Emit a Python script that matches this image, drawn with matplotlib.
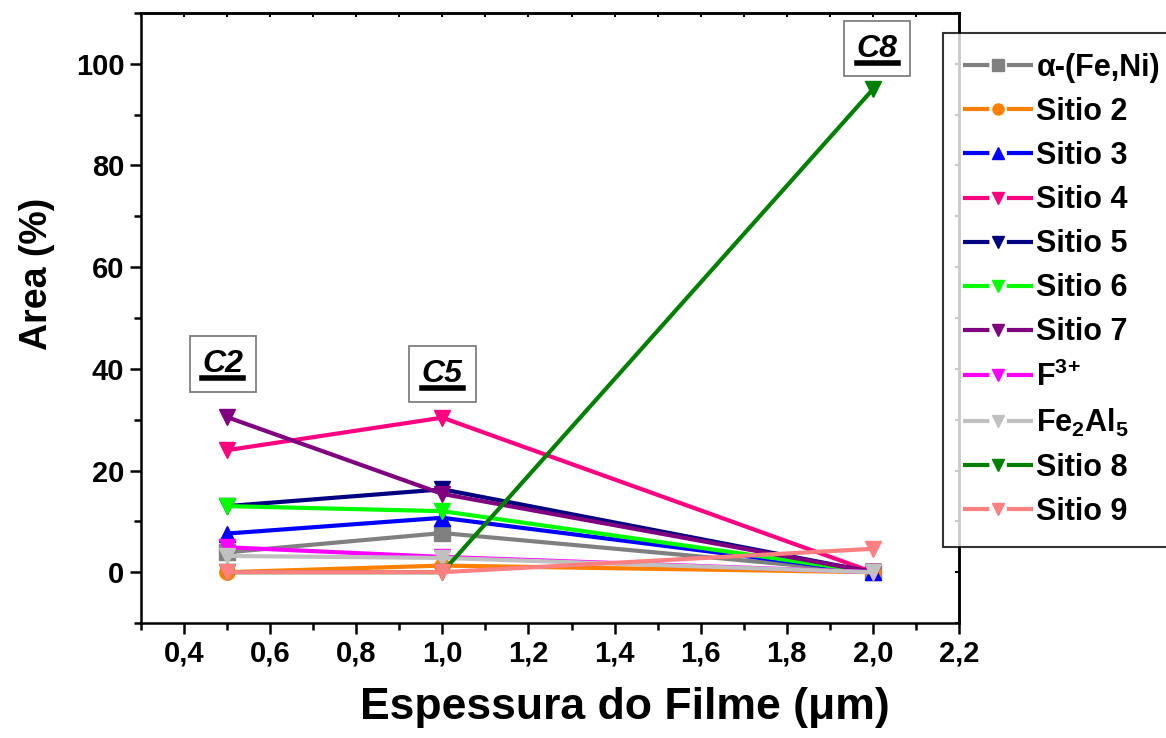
import matplotlib
matplotlib.use("Agg")
import matplotlib.pyplot as plt
from matplotlib.ticker import MultipleLocator, FuncFormatter
from matplotlib.lines import Line2D

plt.rcParams['font.family'] = ['Liberation Sans', 'DejaVu Sans']
plt.rcParams['font.weight'] = 'bold'
plt.rcParams['mathtext.fontset'] = 'custom'
plt.rcParams['mathtext.rm'] = 'Liberation Sans:bold'
plt.rcParams['mathtext.bf'] = 'Liberation Sans:bold'
plt.rcParams['mathtext.default'] = 'bf'
plt.rcParams['lines.scale_dashes'] = False

# data
espessura = [0.5, 1.0, 2.0]
labels = [r'α-(Fe,Ni)', 'Sitio 2', 'Sitio 3', 'Sitio 4', 'Sitio 5', 'Sitio 6',
          'Sitio 7', r'F$^{3\!+}$', r'Fe$_{2}$Al$_{5}$', 'Sitio 8', 'Sitio 9']
alfa_feni = [3.9, 7.7, 0.0]
sitio2 = [0.0, 1.3, 0.0]
sitio3 = [7.6, 10.7, 0.0]
sitio4 = [24.0, 30.4, 0.0]
sitio5 = [13.0, 16.3, 0.0]
sitio6 = [13.0, 12.0, 0.0]
sitio7 = [30.5, 15.4, 0.0]
f3 = [4.9, 3.0, 0.0]
fe2al5 = [3.2, 2.8, 0.0]
sitio8 = [0.0, 0.0, 95.0]
sitio9 = [0.0, 0.0, 4.6]
series = [alfa_feni, sitio2, sitio3, sitio4, sitio5, sitio6, sitio7, f3, fe2al5, sitio8, sitio9]

cores = ['#808080', '#FF8000', '#0000FF', '#FF0080', '#000080', '#00FF00',
         '#800080', '#FF00FF', '#C0C0C0', '#008000', '#FF8080']
marcadores = ['s', 'o', '^', 'v', 'v', 'v', 'v', 'v', 'v', 'v', 'v']

# annotations (C2, C5, C8)
amostras = ['C2', 'C5', 'C8']
amostra_x = [0.49, 1.0, 2.01]
amostra_y = [41.0, 39.0, 103.0]

fig = plt.figure(figsize=(11.66, 7.38), dpi=100)
ax = fig.add_axes([0.1209, 0.1558, 0.7016, 0.8266])

for ys, lab, c, m in zip(series, labels, cores, marcadores):
    ax.plot(espessura, ys, color=c, marker=m, markersize=11, linewidth=3,
            label=lab, markeredgecolor=c)

ax.set_xlim(0.3, 2.2)
ax.set_ylim(-10, 110)
ax.xaxis.set_major_locator(MultipleLocator(0.2))
ax.xaxis.set_minor_locator(MultipleLocator(0.1))
ax.yaxis.set_major_locator(MultipleLocator(20))
ax.yaxis.set_minor_locator(MultipleLocator(10))
ax.xaxis.set_major_formatter(FuncFormatter(lambda v, p: f'{v:.1f}'.replace('.', ',')))
ax.yaxis.set_major_formatter(FuncFormatter(lambda v, p: f'{v:.0f}'))

for s in ax.spines.values():
    s.set_linewidth(1.8)
ax.tick_params(axis='both', which='major', direction='out', length=8, width=1.8,
               labelsize=21, pad=4)
ax.tick_params(axis='both', which='minor', direction='out', length=5, width=1.8)

# inward ticks on top and right
topo = ax.secondary_xaxis('top')
topo.xaxis.set_major_locator(MultipleLocator(0.1))
topo.tick_params(direction='in', length=3, width=1.5, labeltop=False)
topo.spines['top'].set_linewidth(1.8)
dir_ = ax.secondary_yaxis('right')
dir_.yaxis.set_major_locator(MultipleLocator(10))
dir_.tick_params(direction='in', length=3, width=1.5, labelright=False)
dir_.spines['right'].set_linewidth(1.8)

ax.set_xlabel('Espessura do Filme (μm)', fontsize=32, fontweight='bold')
ax.set_ylabel('Area (%)', fontsize=27, fontweight='bold')
ax.xaxis.set_label_coords(0.592, -0.105)
ax.yaxis.set_label_coords(-0.105, 0.572)

txts = []
for nome, xa, ya in zip(amostras, amostra_x, amostra_y):
    t = ax.text(xa, ya, nome, fontsize=23, fontweight='bold', fontstyle='italic',
                ha='center', va='center',
                bbox=dict(boxstyle='square,pad=0.4', facecolor='white',
                          edgecolor='#808080', linewidth=1.3))
    txts.append(t)

leg = ax.legend(loc='upper left', bbox_to_anchor=(0.809, 0.955),
                bbox_transform=fig.transFigure, fontsize=22, frameon=True,
                fancybox=False, edgecolor='black', handlelength=2.3,
                handletextpad=0.1, labelspacing=0.46, borderpad=0.65,
                borderaxespad=0)
leg.get_frame().set_linewidth(1.5)
for h in leg.legend_handles:
    h.set_markersize(8)
    h.set_linestyle((0, (19, 12.6, 19, 100)))

# underline the sample labels
fig.canvas.draw()
r = fig.canvas.get_renderer()
inv = fig.transFigure.inverted()
for t in txts:
    bb = t.get_window_extent(r)
    (x0, y0), (x1, y1) = inv.transform([(bb.x0, bb.y0 + 1), (bb.x1, bb.y0 + 1)])
    fig.add_artist(Line2D([x0, x1], [y0, y1], color='black', linewidth=4,
                          transform=fig.transFigure))

fig.savefig('out.png', dpi=100)
